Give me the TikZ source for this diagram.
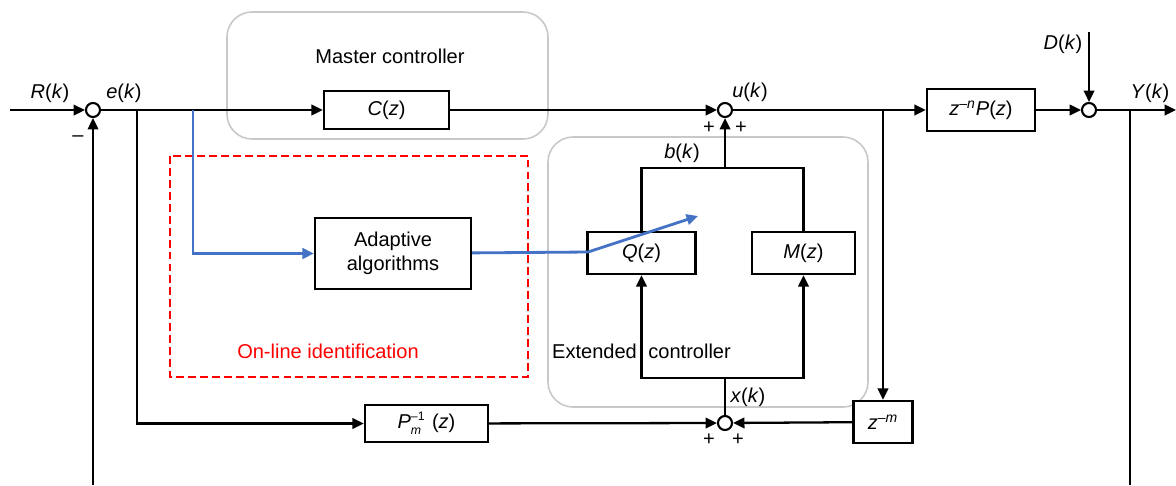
\documentclass[tikz,border=0pt]{standalone}
\usepackage{fontspec}
\setmainfont{Liberation Sans}
\usetikzlibrary{arrows.meta}
\definecolor{adaptblue}{HTML}{4472C4}
\definecolor{groupgray}{HTML}{C8C8C8}
\newcommand{\iv}[1]{\textit{#1}}
\begin{document}
\begin{tikzpicture}[x=0.02cm,y=-0.02cm,
  every node/.style={font=\fontsize{11.4pt}{13.6pt}\selectfont},
  block/.style={draw,line width=1.3pt,fill=white,inner sep=0pt,align=center},
  sumnode/.style={draw,circle,line width=1.2pt,fill=white,inner sep=0pt,minimum size=0.28cm},
  sig/.style={line width=1.3pt,-{Triangle[length=6.5pt,width=6pt]}},
  wire/.style={line width=1.3pt},
  adapt/.style={adaptblue,line width=1.6pt,-{Triangle[length=6.5pt,width=6pt]}},
  group/.style={groupgray,line width=0.9pt,rounded corners=0.5cm},
  ident/.style={red,line width=1.3pt,dash pattern=on 4.5pt off 2.3pt}]
\useasboundingbox (0,0) rectangle (1176,485);
% groups
\draw[group] (227,12) rectangle (548,139);
\draw[group] (548,137) rectangle (868,407);
\draw[ident] (170,156) rectangle (528,377);
\node (mastertxt) at (390,56) {Master controller};
\node[anchor=west] (exttxt) at (546,351) {Extended\hspace{0.3em} controller};
\node[red] (identtxt) at (328,351) {On-line identification};
% blocks
\node[block,minimum width=2.5cm,minimum height=0.76cm] (C) at (386.5,110) {\iv{C}(\iv{z})};
\node[block,minimum width=3.12cm,minimum height=1.42cm] (Ad) at (393,253.5) {Adaptive\\algorithms};
\node[block,minimum width=2.46cm,minimum height=0.74cm] (Pm) at (426.5,423.5)
  {\iv{P}\makebox[1.05em][l]{\rlap{\raisebox{0.75ex}{\scriptsize –1}}\raisebox{-0.55ex}{\scriptsize\iv{m}}}(\iv{z})};
\node[block,minimum width=2.16cm,minimum height=0.84cm] (Q) at (641.5,253) {\iv{Q}(\iv{z})};
\node[block,minimum width=2.06cm,minimum height=0.84cm] (M) at (803.5,253) {\iv{M}(\iv{z})};
\node[block,minimum width=2.16cm,minimum height=0.84cm] (zP) at (981,110) {\iv{z}\textsuperscript{–\iv{n}}\iv{P}(\iv{z})};
\node[block,minimum width=1.18cm,minimum height=0.84cm] (zm) at (883,422) {\iv{z}\textsuperscript{–\iv{m}}};
% summing points
\node[sumnode] (s1) at (93,110) {};
\node[sumnode] (su) at (725,110) {};
\node[sumnode] (sd) at (1089,110) {};
\node[sumnode] (sx) at (725,423) {};
% branch points and free ends
\coordinate (in) at (10,110);
\coordinate (out) at (1176,110);
\coordinate (dtop) at (1089,32);
\coordinate (fb) at (93,485);
\coordinate (yb) at (1130,110);
\coordinate (ybot) at (1130,485);
\coordinate (eb) at (137,110);
\coordinate (ab) at (193,110);
\coordinate (ub) at (883,110);
\coordinate (bj) at (725,168);
\coordinate (xj) at (725,378);
\coordinate (qa) at (588,252);
\coordinate (qt) at (698,216);
% main loop
\draw[sig] (in) -- (s1);
\draw[sig] (s1) -- (C);
\draw[sig] (C) -- (su);
\draw[sig] (su) -- (zP);
\draw[sig] (zP) -- (sd);
\draw[sig] (sd) -- (out);
\draw[sig] (dtop) -- (sd);
\draw[sig] (fb) -- (s1);
\draw[wire] (yb) -- (ybot);
% extended controller
\draw[sig] (eb) |- (Pm);
\draw[sig] (Pm) -- (sx);
\draw[sig] (ub) -- (zm);
\draw[sig] (zm) -- (sx);
\draw[wire] (sx) -- (xj);
\draw[sig] (xj) -| (Q);
\draw[sig] (xj) -| (M);
\draw[wire] (Q) |- (bj) -| (M);
\draw[sig] (bj) -- (su);
% identification
\draw[adapt] (ab) |- (Ad);
\draw[adapt] (Ad) -- (qa) -- (qt);
% labels
\node (Rlbl) at (50,93) {\iv{R}(\iv{k})};
\node (elbl) at (124,93) {\iv{e}(\iv{k})};
\node (minus) at (78,139) {–};
\node (ulbl) at (750,92) {\iv{u}(\iv{k})};
\node (up1) at (709,128) {+};
\node (up2) at (741,128) {+};
\node (blbl) at (682,153) {\iv{b}(\iv{k})};
\node (xlbl) at (748,397) {\iv{x}(\iv{k})};
\node (xp1) at (709,440) {+};
\node (xp2) at (738,440) {+};
\node (Dlbl) at (1063,44) {\iv{D}(\iv{k})};
\node (Ylbl) at (1150,93) {\iv{Y}(\iv{k})};
\end{tikzpicture}
\end{document}
